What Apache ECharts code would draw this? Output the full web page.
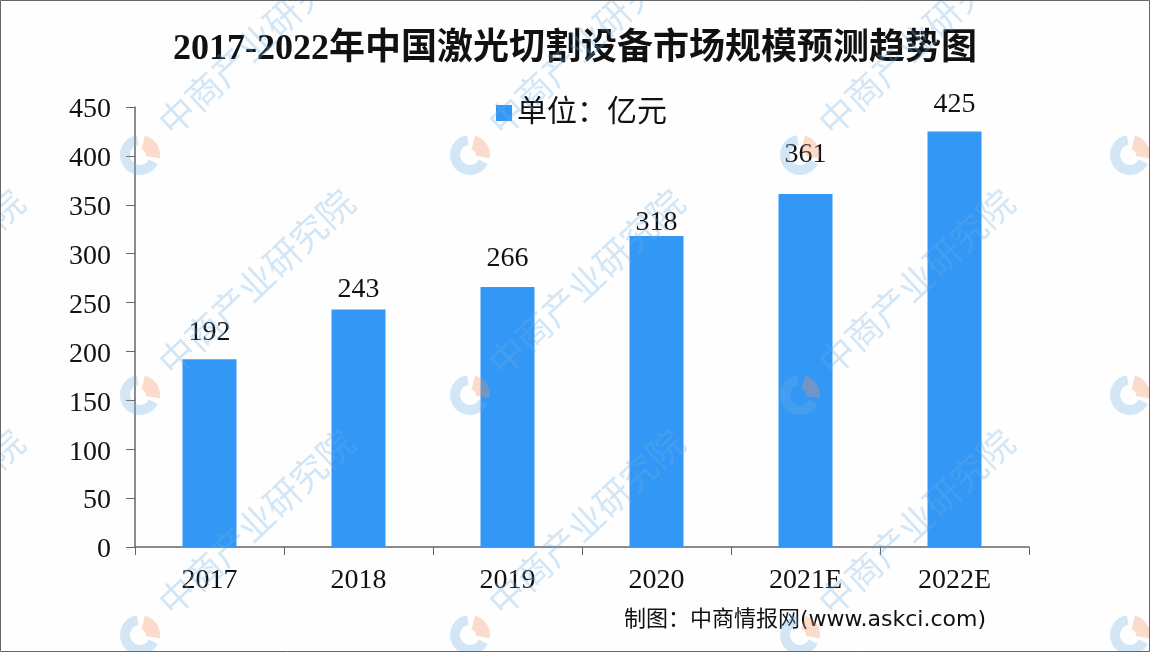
<!DOCTYPE html>
<html lang="zh">
<head>
    <meta charset="UTF-8">
    <title>2017-2022年中国激光切割设备市场规模预测趋势图</title>
    <style>
        html,body{margin:0;padding:0;background:#fff}
        #main{width:1150px;height:652px}
    </style>
</head>
<body>
<div id="main"></div>
<script src="https://cdn.jsdelivr.net/npm/echarts@6/dist/echarts.min.js"></script>
<script>
    var categories = ['2017', '2018', '2019', '2020', '2021E', '2022E'];
    var values = [192, 243, 266, 318, 361, 425];
    var seriesName = '单位：亿元';
    var titleText = '2017-2022年中国激光切割设备市场规模预测趋势图';
    var sourceText = '制图：中商情报网(www.askci.com)';
    var watermarkText = '中商产业研究院';

    var serifFont = '"Liberation Serif","Noto Sans CJK SC",serif';
    var markBlue = 'rgba(110,175,230,0.30)';
    var markOrange = 'rgba(245,150,100,0.32)';
    // 原图数字标签不是统一贴在柱顶，这里逐个微调
    var labelShift = [0, 7, -1, 14, -12, 0];

    // 水印：每 330 x 240 重复一次
    var graphics = [];
    for (var row = 0; row < 3; row++) {
        for (var col = 0; col < 4; col++) {
            var lx = 140 + col * 330, ly = 155 + row * 240;
            graphics.push({
                type: 'arc', z: 100, silent: true,
                shape: {cx: lx, cy: ly, r: 15, startAngle: Math.PI * 0.15, endAngle: Math.PI * 1.45},
                style: {fill: 'none', stroke: markBlue, lineWidth: 10}
            });
            graphics.push({
                type: 'arc', z: 100, silent: true,
                shape: {cx: lx, cy: ly, r: 13, startAngle: Math.PI * 1.58, endAngle: Math.PI * 2.05},
                style: {fill: 'none', stroke: markOrange, lineWidth: 14}
            });
            graphics.push({
                type: 'text', z: 100, silent: true,
                x: lx + 116, y: ly - 113, rotation: Math.PI * 43 / 180,
                style: {
                    text: watermarkText, fill: markBlue, align: 'center', verticalAlign: 'middle',
                    font: '36px "Noto Sans CJK SC"'
                }
            });
            if (col === 0) {
                graphics.push({
                    type: 'text', z: 100, silent: true,
                    x: lx - 214, y: ly - 113, rotation: Math.PI * 43 / 180,
                    style: {
                        text: watermarkText, fill: markBlue, align: 'center', verticalAlign: 'middle',
                        font: '36px "Noto Sans CJK SC"'
                    }
                });
            }
        }
    }
    // 外框
    graphics.push({
        type: 'rect', z: 101, silent: true,
        shape: {x: 0.5, y: 0.5, width: 1149, height: 651},
        style: {fill: 'none', stroke: '#666', lineWidth: 1}
    });
    // 来源
    graphics.push({
        type: 'text', z: 99, silent: true,
        x: 624, y: 620,
        style: {
            text: sourceText, fill: '#111', verticalAlign: 'middle',
            font: '22px "DejaVu Sans","Noto Sans CJK SC",sans-serif'
        }
    });

    var barData = values.map(function (v, i) {
        return {value: v, label: {offset: [0, labelShift[i]]}};
    });

    var option = {
        backgroundColor: '#fefefe',
        animation: false,
        title: {
            text: titleText,
            left: 'center',
            top: 27,
            textStyle: {fontFamily: serifFont, fontSize: 36, fontWeight: 'bold', color: '#111'}
        },
        legend: {
            left: 491,
            top: 93,
            icon: 'rect',
            itemWidth: 16,
            itemHeight: 16,
            itemGap: 4,
            textStyle: {fontFamily: serifFont, fontSize: 30, color: '#111'},
            data: [seriesName]
        },
        grid: {left: 135, right: 121, top: 107, bottom: 105},
        xAxis: {
            type: 'category',
            data: categories,
            axisLine: {lineStyle: {color: '#666', width: 1.5}},
            axisTick: {show: true, length: 8, alignWithLabel: false, lineStyle: {color: '#666'}},
            axisLabel: {fontFamily: serifFont, fontSize: 28, color: '#111', margin: 20, interval: 0}
        },
        yAxis: {
            type: 'value',
            min: 0,
            max: 450,
            interval: 50,
            splitLine: {show: false},
            axisLine: {show: true, lineStyle: {color: '#666', width: 1.5}},
            axisTick: {show: true, length: 9, lineStyle: {color: '#666'}},
            axisLabel: {
                margin: 24,
                formatter: '{v|{value}}',
                rich: {v: {fontFamily: serifFont, fontSize: 28, color: '#111', padding: [6, 0, 0, 0]}}
            }
        },
        series: [{
            name: seriesName,
            type: 'bar',
            barWidth: 54,
            itemStyle: {color: '#3397F5'},
            label: {
                show: true,
                position: 'top',
                distance: 13,
                fontFamily: serifFont,
                fontSize: 28,
                color: '#111'
            },
            data: barData
        }],
        graphic: graphics
    };

    var chart = echarts.init(document.getElementById('main'));
    chart.setOption(option);
</script>
</body>
</html>
